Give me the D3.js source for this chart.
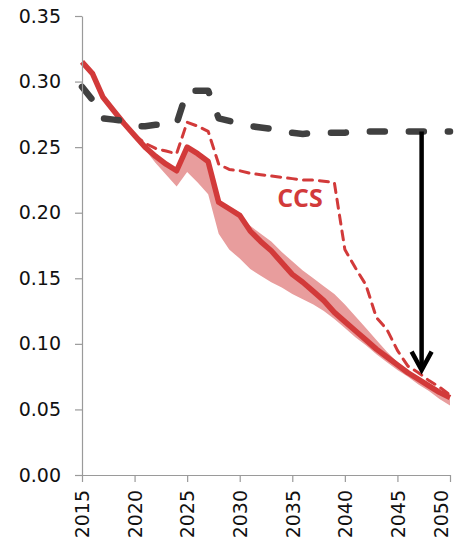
<!DOCTYPE html>
<html>
<head>
<meta charset="utf-8">
<script src="https://cdn.jsdelivr.net/npm/d3@7/dist/d3.min.js"></script>
<style>
  html, body { margin: 0; padding: 0; background: #fff; }
  svg { display: block; }
  .axis text { font-family: "DejaVu Sans", sans-serif; font-size: 19px; fill: #111; }
  .axis path, .axis line { stroke: #9a9a9a; stroke-width: 1.2; }
</style>
</head>
<body>
<svg id="chart" width="454" height="540"></svg>
<script>
// Emission intensity pathways, 2015-2050
const years = d3.range(2015, 2051);

const reference = [0.296, 0.286, 0.272, 0.271, 0.270, 0.266, 0.266, 0.267, 0.267, 0.268,
  0.293, 0.293, 0.293, 0.272, 0.270, 0.268, 0.266, 0.265, 0.264, 0.262,
  0.261, 0.260, 0.261, 0.261, 0.261, 0.261, 0.262, 0.262, 0.262, 0.262,
  0.262, 0.262, 0.262, 0.262, 0.262, 0.262];

const central = [0.315, 0.306, 0.288, 0.278, 0.268, 0.259, 0.250, 0.243, 0.237, 0.232,
  0.250, 0.245, 0.239, 0.208, 0.203, 0.198, 0.186, 0.178, 0.171, 0.162,
  0.153, 0.147, 0.140, 0.133, 0.124, 0.117, 0.110, 0.103, 0.096, 0.090,
  0.084, 0.078, 0.073, 0.068, 0.063, 0.059];

const rangeLow = [0.315, 0.306, 0.288, 0.278, 0.268, 0.259, 0.248, 0.238, 0.229, 0.220,
  0.231, 0.223, 0.214, 0.184, 0.172, 0.165, 0.157, 0.152, 0.147, 0.143,
  0.138, 0.134, 0.130, 0.125, 0.119, 0.112, 0.105, 0.099, 0.092, 0.086,
  0.080, 0.075, 0.069, 0.064, 0.058, 0.053];

const rangeHigh = [0.315, 0.306, 0.288, 0.278, 0.268, 0.259, 0.250, 0.243, 0.237, 0.232,
  0.250, 0.245, 0.239, 0.208, 0.203, 0.198, 0.190, 0.184, 0.178, 0.170,
  0.163, 0.156, 0.150, 0.144, 0.138, 0.130, 0.121, 0.112, 0.103, 0.094,
  0.086, 0.079, 0.074, 0.068, 0.063, 0.059];

const ccsYears = d3.range(2020, 2051);
const ccs = [0.259, 0.253, 0.249, 0.247, 0.245, 0.269, 0.266, 0.262, 0.237, 0.233,
  0.232, 0.230, 0.229, 0.228, 0.227, 0.226, 0.225, 0.225, 0.224, 0.223,
  0.172, 0.158, 0.145, 0.120, 0.111, 0.095, 0.083, 0.078, 0.072, 0.067, 0.061];

const yTicks = [0, 0.05, 0.10, 0.15, 0.20, 0.25, 0.30, 0.35];
const xTicks = [2015, 2020, 2025, 2030, 2035, 2040, 2045, 2050];

// Gap between reference and pathway, marked by an arrow
const gapYear = 2047.3;
const gapFrom = 0.262;
const gapTo = 0.080;

const svg = d3.select("#chart");
const x = d3.scaleLinear().domain([2015, 2050]).range([82, 450]);
const y = d3.scaleLinear().domain([0, 0.35]).range([475, 16]);

const red = "#d23a3a";

// Uncertainty band
const area = d3.area()
  .x((d, i) => x(years[i]))
  .y0((d, i) => y(rangeLow[i]))
  .y1((d, i) => y(rangeHigh[i]));
svg.append("path").datum(years).attr("d", area).attr("fill", "#e89d9d");

const line = d3.line().x(d => x(d[0])).y(d => y(d[1]));

// Central pathway
svg.append("path")
  .datum(years.map((yr, i) => [yr, central[i]]))
  .attr("d", line)
  .attr("fill", "none").attr("stroke", red)
  .attr("stroke-width", 5.5).attr("stroke-linejoin", "round");

// CCS pathway
svg.append("path")
  .datum(ccsYears.map((yr, i) => [yr, ccs[i]]))
  .attr("d", line)
  .attr("fill", "none").attr("stroke", red)
  .attr("stroke-width", 3).attr("stroke-dasharray", "9,7")
  .attr("stroke-linecap", "round").attr("stroke-linejoin", "round");

// Reference trajectory
svg.append("path")
  .datum(years.map((yr, i) => [yr, reference[i]]))
  .attr("d", line)
  .attr("fill", "none").attr("stroke", "#404040")
  .attr("stroke-width", 6.5).attr("stroke-dasharray", "15,24")
  .attr("stroke-linecap", "round").attr("stroke-linejoin", "round");

// Arrow
const ax = x(gapYear), ay0 = y(gapFrom), ay1 = y(gapTo);
svg.append("line")
  .attr("x1", ax).attr("x2", ax).attr("y1", ay0).attr("y2", ay1 - 2)
  .attr("stroke", "#000").attr("stroke-width", 4.5);
svg.append("path")
  .attr("d", `M${ax - 10},${ay1 - 18.5}L${ax},${ay1}L${ax + 10},${ay1 - 18.5}`)
  .attr("fill", "none").attr("stroke", "#000").attr("stroke-width", 4.5)
  .attr("stroke-linejoin", "miter");

// CCS label
svg.append("text")
  .attr("x", 300).attr("y", 207)
  .attr("text-anchor", "middle")
  .attr("font-family", "'Open Sans', sans-serif")
  .attr("font-weight", 700).attr("font-size", 25)
  .attr("fill", red)
  .text("CCS");

// Axes
svg.append("g").attr("class", "axis")
  .attr("transform", `translate(${x(2015)},0)`)
  .call(d3.axisLeft(y).tickValues(yTicks).tickFormat(d3.format(".2f"))
    .tickSize(7).tickSizeOuter(0).tickPadding(14));

const gx = svg.append("g").attr("class", "axis")
  .attr("transform", `translate(0,${y(0)})`)
  .call(d3.axisBottom(x).tickValues(xTicks).tickFormat(d3.format("d"))
    .tickSize(7).tickSizeOuter(0));
// Rotated year labels; the last one is nudged inward so it stays inside the frame
gx.selectAll("text")
  .attr("transform", "rotate(-90)")
  .attr("text-anchor", "end")
  .attr("x", -15)
  .attr("y", d => (d === 2050 ? -9 : 0))
  .attr("dy", "0.36em");
</script>
</body>
</html>
